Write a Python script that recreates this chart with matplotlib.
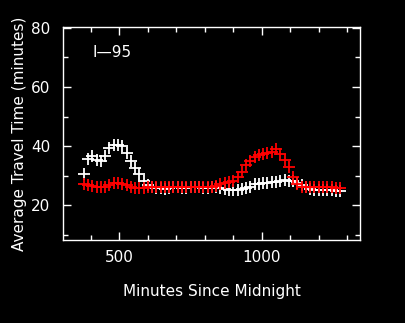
import matplotlib
matplotlib.use("Agg")
import matplotlib.pyplot as plt
import numpy as np
from matplotlib.ticker import MultipleLocator

# minutes since midnight, every 15 min
minutes = list(range(375, 1276, 15))

# white series
travel_white = [
    30.7, 35.5, 36.5, 35.2, 35.0, 36.5, 39.5, 40.5, 40.3, 40.0,
    37.5, 34.8, 32.5, 30.5, 28.0, 26.8, 26.0, 25.8, 25.8, 25.5,
    25.7, 26.0, 26.0, 25.8, 25.8, 26.0, 26.0, 26.0, 25.8, 25.8,
    26.0, 26.0, 25.8, 25.5, 25.2, 25.0, 25.0, 25.3, 25.8, 26.3,
    27.0, 27.3, 27.5, 27.5, 27.8, 27.8, 28.2, 28.5, 28.3, 28.0,
    27.5, 26.8, 26.0, 25.5, 25.2, 25.0, 25.0, 25.0, 25.0, 24.9,
    24.8,
]

# red series
travel_red = [
    27.0, 26.8, 26.5, 26.3, 26.2, 26.3, 26.8, 27.5, 27.5, 27.2,
    26.8, 26.3, 25.8, 25.7, 25.8, 26.0, 26.0, 26.0, 26.0, 26.0,
    26.0, 26.0, 26.0, 26.0, 26.0, 26.0, 26.0, 26.0, 26.0, 26.0,
    26.2, 26.5, 27.0, 27.4, 27.8, 28.2, 29.5, 31.3, 33.5, 35.0,
    36.3, 37.0, 37.4, 37.8, 38.1, 38.9, 37.3, 35.3, 33.0, 29.6,
    27.3, 26.3, 26.1, 26.0, 26.0, 26.0, 26.0, 26.0, 26.0, 25.9,
    25.9,
]

fig = plt.figure(figsize=(4.05, 3.23), dpi=100, facecolor="black")
ax = fig.add_axes([0.1556, 0.257, 0.7340, 0.6594], facecolor="black")

ax.plot(minutes, travel_white, linestyle="none", marker="+", color="white",
        markersize=8, markeredgewidth=1.3)
ax.plot(minutes, travel_red, linestyle="none", marker="+", color="#ff0000",
        markersize=8, markeredgewidth=1.3)

ax.set_xlim(302, 1346)
ax.set_ylim(8.2, 80.3)
ax.xaxis.set_major_locator(MultipleLocator(500))
ax.xaxis.set_minor_locator(MultipleLocator(100))
ax.yaxis.set_major_locator(MultipleLocator(20))
ax.yaxis.set_minor_locator(MultipleLocator(10))

for s in ax.spines.values():
    s.set_color("white")
    s.set_linewidth(1.0)
ax.tick_params(which="both", direction="in", top=True, right=True,
               colors="white", width=1.0, labelsize=11)
ax.tick_params(which="major", length=6)
ax.tick_params(which="minor", length=3.5)
ax.tick_params(axis="x", pad=7)
ax.tick_params(axis="y", pad=9)

ax.set_xlabel("Minutes Since Midnight", color="white", fontsize=11, labelpad=14)
ax.set_ylabel("Average Travel Time (minutes)", color="white", fontsize=11,
              labelpad=3)
ax.text(404, 71.5, "I\u201495", color="white", fontsize=11, va="center")

fig.savefig("out.png", dpi=100, facecolor="black")
